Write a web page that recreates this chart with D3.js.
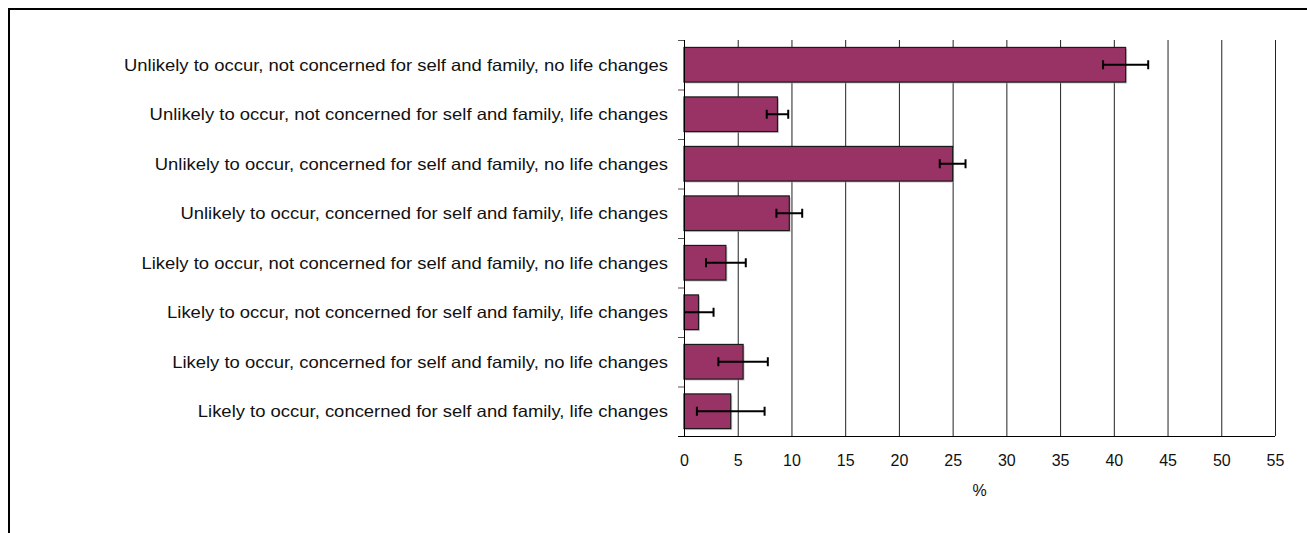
<!DOCTYPE html>
<html>
<head>
<meta charset="utf-8">
<script src="https://cdn.jsdelivr.net/npm/d3@7"></script>
<style>
  html, body { margin: 0; padding: 0; background: #fff; }
  svg { display: block; }
  text { font-family: "Liberation Sans", Arial, sans-serif; fill: #111; }
</style>
</head>
<body>
<div id="chart"></div>
<script>
// chart data
const categories = [
  'Unlikely to occur, not concerned for self and family, no life changes',
  'Unlikely to occur, not concerned for self and family, life changes',
  'Unlikely to occur, concerned for self and family, no life changes',
  'Unlikely to occur, concerned for self and family, life changes',
  'Likely to occur, not concerned for self and family, no life changes',
  'Likely to occur, not concerned for self and family, life changes',
  'Likely to occur, concerned for self and family, no life changes',
  'Likely to occur, concerned for self and family, life changes'
];
const percents = [41.1, 8.7, 25.0, 9.8, 3.9, 1.35, 5.5, 4.35];
const errors = [2.1, 1.0, 1.2, 1.2, 1.85, 1.4, 2.3, 3.15];
const xTicks = [0, 5, 10, 15, 20, 25, 30, 35, 40, 45, 50, 55];
const xLabel = '%';

const width = 1307, height = 533;
const plot = { left: 684, right: 1275, top: 40, bottom: 436 };

const svg = d3.select('#chart')
  .append('svg')
  .attr('width', width)
  .attr('height', height);

// outer frame (only left and top edges are inside the picture)
svg.append('rect')
  .attr('x', 9).attr('y', 9)
  .attr('width', width + 20).attr('height', height + 20)
  .attr('fill', 'none')
  .attr('stroke', '#000')
  .attr('stroke-width', 2);

const x = d3.scaleLinear()
  .domain([0, 55])
  .range([plot.left, plot.right]);

const y = d3.scaleBand()
  .domain(categories)
  .range([plot.top, plot.bottom])
  .paddingInner(0.3)
  .paddingOuter(0.15);

// vertical gridlines
svg.append('g')
  .selectAll('line')
  .data(xTicks.slice(1))
  .enter()
  .append('line')
  .attr('x1', d => x(d) + 0.5)
  .attr('x2', d => x(d) + 0.5)
  .attr('y1', plot.top)
  .attr('y2', plot.bottom)
  .attr('stroke', '#222')
  .attr('stroke-width', 1);

const data = categories.map((c, i) => ({ c, v: percents[i], e: errors[i] }));

// bar shadows
svg.append('g')
  .selectAll('rect')
  .data(data)
  .enter()
  .append('rect')
  .attr('x', x(0) + 1.5)
  .attr('y', d => y(d.c) + 1.5)
  .attr('width', d => x(d.v) - x(0))
  .attr('height', y.bandwidth())
  .attr('fill', '#aaa')
  .attr('opacity', 0.6);

// bars
svg.append('g')
  .selectAll('rect')
  .data(data)
  .enter()
  .append('rect')
  .attr('x', x(0))
  .attr('y', d => y(d.c))
  .attr('width', d => x(d.v) - x(0))
  .attr('height', y.bandwidth())
  .attr('fill', '#993366')
  .attr('stroke', '#1a1a1a')
  .attr('stroke-width', 1.2);

// error bars, clipped to the plot area
svg.append('defs').append('clipPath')
  .attr('id', 'plotclip')
  .append('rect')
  .attr('x', plot.left).attr('y', plot.top)
  .attr('width', plot.right - plot.left).attr('height', plot.bottom - plot.top);

const errG = svg.append('g')
  .attr('clip-path', 'url(#plotclip)')
  .selectAll('g')
  .data(data)
  .enter()
  .append('g')
  .attr('stroke', '#000')
  .attr('stroke-width', 2);

const mid = d => y(d.c) + y.bandwidth() / 2;

errG.append('line')
  .attr('x1', d => x(d.v - d.e))
  .attr('x2', d => x(d.v + d.e))
  .attr('y1', mid)
  .attr('y2', mid);

errG.append('line')
  .attr('x1', d => x(d.v - d.e))
  .attr('x2', d => x(d.v - d.e))
  .attr('y1', d => mid(d) - 4.5)
  .attr('y2', d => mid(d) + 4.5);

errG.append('line')
  .attr('x1', d => x(d.v + d.e))
  .attr('x2', d => x(d.v + d.e))
  .attr('y1', d => mid(d) - 4.5)
  .attr('y2', d => mid(d) + 4.5);

// left axis: line plus ticks at category boundaries
const yAxis = svg.append('g');
yAxis.append('line')
  .attr('x1', plot.left + 0.5).attr('x2', plot.left + 0.5)
  .attr('y1', plot.top).attr('y2', plot.bottom)
  .attr('stroke', '#000');
const step = (plot.bottom - plot.top) / categories.length;
yAxis.selectAll('line.tick')
  .data(d3.range(categories.length))
  .enter()
  .append('line')
  .attr('class', 'tick')
  .attr('x1', plot.left - 6).attr('x2', plot.left)
  .attr('y1', d => plot.top + d * step + 0.5)
  .attr('y2', d => plot.top + d * step + 0.5)
  .attr('stroke', '#555');

const labels = yAxis.selectAll('text')
  .data(categories)
  .enter()
  .append('text')
  .attr('x', 668)
  .attr('y', d => y(d) + y.bandwidth() / 2)
  .attr('dy', '0.36em')
  .attr('text-anchor', 'end')
  .attr('font-size', '16.5px')
  .text(d => d);

// reference font runs wider than Liberation Sans: stretch to match the longest label (544px)
const natural = labels.nodes().map(n => n.getComputedTextLength());
const stretch = 544 / d3.max(natural);
labels.each(function (d, i) {
  d3.select(this)
    .attr('textLength', natural[i] * stretch)
    .attr('lengthAdjust', 'spacingAndGlyphs');
});

// bottom axis
const xAxis = d3.axisBottom(x)
  .tickValues(xTicks)
  .tickSize(0)
  .tickPadding(18)
  .tickFormat(d3.format('d'));

const xg = svg.append('g')
  .attr('transform', `translate(0,${plot.bottom + 0.5})`)
  .call(xAxis);
xg.select('.domain').remove();
xg.append('line')
  .attr('x1', plot.left - 6).attr('x2', plot.right)
  .attr('stroke', '#000');
xg.selectAll('text')
  .attr('font-size', '16px')
  .attr('font-family', '"Liberation Sans", Arial, sans-serif')
  .attr('fill', '#111');

svg.append('text')
  .attr('x', (plot.left + plot.right) / 2)
  .attr('y', 490)
  .attr('dy', '0.35em')
  .attr('text-anchor', 'middle')
  .attr('font-size', '16px')
  .text(xLabel);
</script>
</body>
</html>
